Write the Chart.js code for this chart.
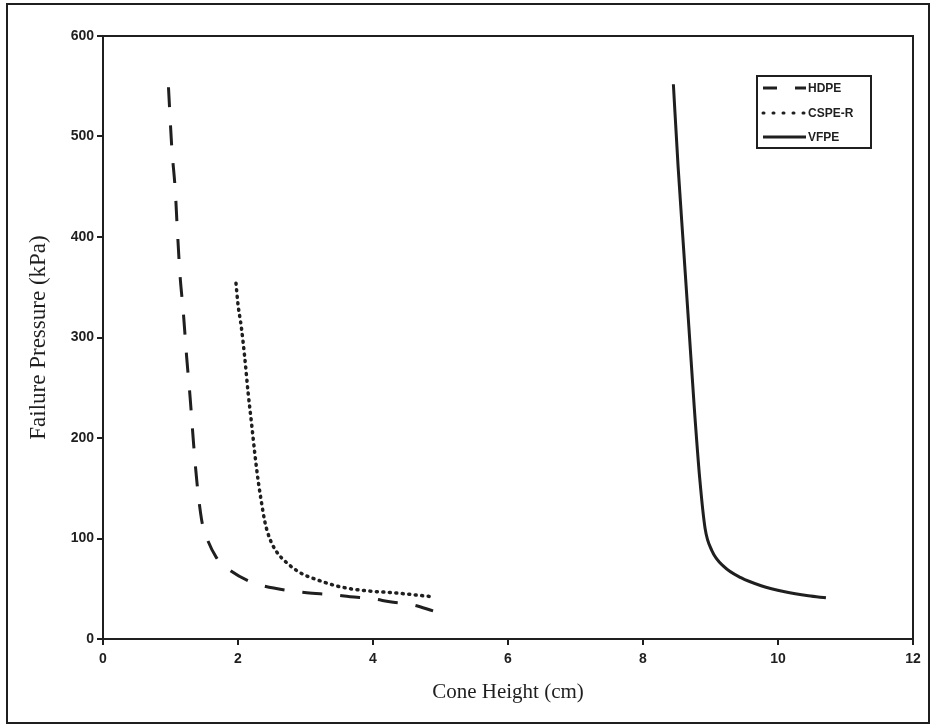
<!DOCTYPE html>
<html>
<head>
<meta charset="utf-8">
<script src="https://cdn.jsdelivr.net/npm/chart.js@4.4.0/dist/chart.umd.min.js"></script>
<style>
  html, body { margin: 0; padding: 0; background: #fff; }
  #wrap { position: relative; width: 936px; height: 727px; }
</style>
</head>
<body>
<div id="wrap"><canvas id="chart" width="936" height="727"></canvas></div>
<script>
// Cone height (cm) vs failure pressure (kPa)
const hdpeX = [0.97, 1.02, 1.07, 1.10, 1.14, 1.19, 1.24, 1.29, 1.34, 1.39, 1.46, 1.51, 1.68, 1.83, 2.18, 2.37, 2.77, 3.02, 3.41, 3.66, 4.00, 4.25, 4.59, 4.89];
const hdpeY = [549, 488, 447, 409, 363, 325, 280, 241, 196, 157, 119, 106, 81, 71, 57, 53, 48, 46, 44, 42, 40, 37, 34, 28];

const cspeX = [1.97, 2.00, 2.05, 2.10, 2.15, 2.20, 2.25, 2.30, 2.35, 2.40, 2.47, 2.57, 2.72, 2.92, 3.17, 3.51, 3.90, 4.30, 4.89];
const cspeY = [354, 333, 310, 280, 245, 215, 184, 157, 135, 116, 100, 87, 76, 66, 59, 52, 48, 46, 42];

const vfpeX = [8.45, 8.52, 8.60, 8.68, 8.76, 8.84, 8.92, 9.02, 9.20, 9.45, 9.75, 10.10, 10.45, 10.71];
const vfpeY = [552, 470, 390, 310, 230, 160, 110, 88, 72, 61, 53, 47, 43, 41];

const seriesNames = ['HDPE', 'CSPE-R', 'VFPE'];

const INK = '#1f1f1f';

function toPoints(xs, ys) {
    return xs.map((x, i) => ({ x: x, y: ys[i] }));
}

// Cadre extérieur + bord du graphe + légende encadrée
const framePlugin = {
    id: 'frame',
    afterDraw(chart) {
        const ctx = chart.ctx;
        const a = chart.chartArea;
        ctx.save();
        ctx.strokeStyle = INK;
        ctx.lineWidth = 2;
        ctx.strokeRect(7, 4, 922, 719);
        ctx.strokeRect(a.left, a.top, a.right - a.left, a.bottom - a.top);

        // légende
        ctx.strokeRect(757, 76, 114, 72);
        const legendDash = [[14, 18], [1, 9], []];
        const legendCap = ['butt', 'round', 'butt'];
        const rows = [88, 113, 137];
        chart.data.datasets.forEach((ds, i) => {
            const y = rows[i];
            ctx.beginPath();
            ctx.setLineDash(legendDash[i]);
            ctx.lineCap = legendCap[i];
            ctx.lineWidth = 3;
            ctx.moveTo(763, y);
            ctx.lineTo(806, y);
            ctx.stroke();
            ctx.setLineDash([]);
            ctx.fillStyle = INK;
            ctx.font = "bold 12px 'Liberation Sans', Arial, sans-serif";
            ctx.textBaseline = 'middle';
            ctx.textAlign = 'left';
            ctx.fillText(ds.label, 808, y + 1);
        });
        ctx.restore();
    }
};

const tickFont = { family: "'Liberation Sans Narrow', 'Liberation Sans', Arial, sans-serif", size: 14, weight: 'bold' };
const xTitleFont = { family: "'Liberation Serif', 'Times New Roman', serif", size: 21 };
const yTitleFont = { family: "'Liberation Serif', 'Times New Roman', serif", size: 23 };

new Chart(document.getElementById('chart'), {
    type: 'scatter',
    data: {
        datasets: [
            {
                label: seriesNames[0],
                data: toPoints(hdpeX, hdpeY),
                showLine: true,
                borderColor: INK,
                borderWidth: 3,
                borderDash: [20, 18],
                pointRadius: 0,
                cubicInterpolationMode: 'monotone'
            },
            {
                label: seriesNames[1],
                data: toPoints(cspeX, cspeY),
                showLine: true,
                borderColor: INK,
                borderWidth: 3.5,
                borderDash: [1, 5.5],
                borderCapStyle: 'round',
                pointRadius: 0,
                cubicInterpolationMode: 'monotone'
            },
            {
                label: seriesNames[2],
                data: toPoints(vfpeX, vfpeY),
                showLine: true,
                borderColor: INK,
                borderWidth: 3,
                pointRadius: 0,
                cubicInterpolationMode: 'monotone'
            }
        ]
    },
    options: {
        responsive: false,
        animation: false,
        devicePixelRatio: 1,
        layout: { padding: { top: 36, right: 23, left: 0, bottom: 0 } },
        plugins: {
            legend: { display: false },
            tooltip: { enabled: false }
        },
        scales: {
            x: {
                type: 'linear',
                min: 0,
                max: 12,
                ticks: { stepSize: 2, color: INK, font: tickFont, padding: 6, maxRotation: 0 },
                grid: { drawOnChartArea: false, drawTicks: true, tickLength: 6, color: INK, lineWidth: 2 },
                border: { display: true, color: INK, width: 2 },
                title: { display: true, text: 'Cone Height (cm)', color: INK, font: xTitleFont, padding: { top: 0, bottom: 22 } },
                afterFit(scale) { scale.height = 88; }
            },
            y: {
                type: 'linear',
                min: 0,
                max: 600,
                ticks: { stepSize: 100, color: INK, font: tickFont, padding: 3 },
                grid: { drawOnChartArea: false, drawTicks: true, tickLength: 6, color: INK, lineWidth: 2 },
                border: { display: true, color: INK, width: 2 },
                title: { display: true, text: 'Failure Pressure (kPa)', color: INK, font: yTitleFont, padding: { top: 25, bottom: 0 } },
                afterFit(scale) { scale.width = 103; }
            }
        }
    },
    plugins: [framePlugin]
});
</script>
</body>
</html>
